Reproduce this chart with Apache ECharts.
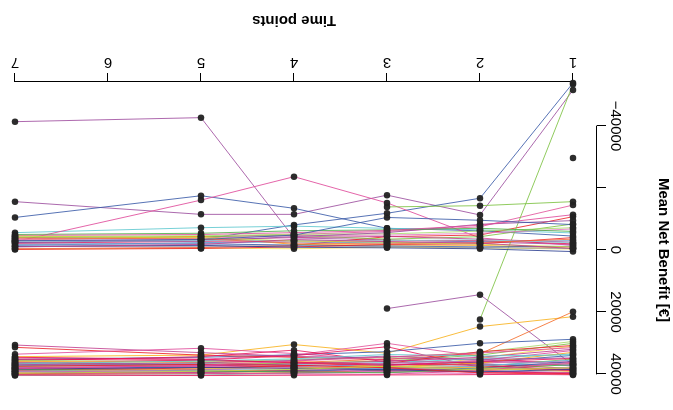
<!DOCTYPE html>
<html>
<head>
<meta charset="utf-8">
<script src="https://cdn.jsdelivr.net/npm/echarts@6/dist/echarts.min.js"></script>
<style>
  html, body { margin: 0; padding: 0; background: #fff; }
  #chart { width: 673px; height: 410px; transform: rotate(180deg); transform-origin: 50% 50%; }
</style>
</head>
<body>
<div id="chart"></div>
<script>
// Measurement occasions (no observations were taken at time point 6)
const timePoints = [1, 2, 3, 4, 5, 7];
const xTicks = [1, 2, 3, 4, 5, 6, 7];
const yTicks = [-40000, -20000, 0, 20000, 40000];

// Mean net benefit per subject, in the order of timePoints; null = not observed
const lowerBandRows = [
  [-1800, -2600, -3300, -3900, -42700, -41400],
  [-51600, -11300, -17700, -11500, -11500, -15600],
  [-4500, -6200, -7000, -13450, -17500, -10500],
  [-53900, -16700, -11850, -8100, -3300, -2400],
  [-5500, -6500, -7000, -7700, -7200, -5600],
  [-1500, -3900, -15200, -23650, -16100, -2700],
  [-14500, -7500, -6000, -5000, -4200, -3600],
  [-10750, -4850, -4300, -1500, -800, -400],
  [-15600, -14300, -13900, null, null, null],
  [-53500, 22400, null, null, null, null],
  [-29700, null, null, null, null, null],
  [-8400, -4300, -3500, -4700, -4300, -4000],
  [-7200, -6100, -5200, -5100, -4600, -4300],
  [-600, -1500, -1600, -1800, -4400, -3200],
  [-300, -700, -900, -400, -600, -300],
  [-2500, -3500, -4400, -4000, -3300, -2900],
  [-1200, -1000, -1300, -1600, -2000, -1900],
  [-3000, -2700, -2300, -2600, -2400, -1500],
  [-2000, -3100, -2900, -3000, -2800, -2200],
  [-500, -800, -1100, -1300, -1200, -1100],
  [-6800, -5400, -4800, -4600, -3800, -3400],
  [-9500, -8300, -5600, -4300, -2900, -2500],
  [-4000, -2000, -1800, -1000, -500, -200],
  [-6000, -7000, -6500, -6200, -5400, -5000],
  [-2300, -3300, -3000, -3100, -3000, -2800],
  [500, -400, -700, -900, -1500, -1200],
  [-3500, -2400, -2000, -2200, -3600, -3900],
  [-11400, -8000, -6300, -5600, -5000, -4700],
  [-1000, -1900, -2500, -2900, -4000, -4500],
  [-8200, -9600, -10500, -4800, -3400, -3000],
  [-500, -2200, -2700, -3400, -1800, -1000]
];
const lowerBandColors = [
  '#a04fa0', '#9c4f9f', '#3a5ba8', '#3a5ba8', '#5ec8cf', '#df4a9a', '#e2559c', '#ec2227',
  '#7dc242', '#7dc242', '#222222', '#7dc242', '#a6d96a', '#f8a51c', '#f2e15a', '#c2408f',
  '#3a5ba8', '#5b8fc9', '#e8175d', '#8893a8', '#e377c2', '#9c4f9f', '#ec2227', '#4daf4a',
  '#8fd3d8', '#2c3e91', '#f46d43', '#df4a9a', '#c7d93f', '#3a5ba8', '#c2408f'
];

const upperBandRows = [
  [37100, 14400, 18900, null, null, null],
  [21500, 24700, 33300, 30500, 33900, 34400],
  [19900, 33500, 35200, 36300, 36800, 37200],
  [37500, 34400, 30100, 33900, 35200, 34800],
  [28800, 30100, 32800, 33800, 34600, 35300],
  [30100, 33900, 35800, 36500, 37100, 37600],
  [36500, 35500, 34800, 34300, 33100, 30650],
  [38200, 36700, 35400, 34600, 33900, 31400],
  [35800, 36400, 35600, 33400, 31700, 33600],
  [38700, 37300, 36100, 32300, 34400, 35800],
  [39000, 37900, 31200, 34100, 35500, 36600],
  [34000, 36200, 37000, 37400, 37800, 38100],
  [31000, 34800, 38800, 39500, 39800, 40200],
  [33500, 35100, 36300, 36900, 37000, 36200],
  [35200, 37600, 38200, 37900, 38500, 38900],
  [40000, 38800, 38100, 37600, 37100, 36400],
  [39500, 39000, 38400, 38700, 39300, 39700],
  [32400, 35600, 37300, 38300, 37600, 36900],
  [36700, 37800, 37900, 38900, 39500, 39900],
  [38300, 38500, 39200, 39600, 39900, 40100],
  [37200, 36800, 37600, 37100, 36700, 37300],
  [29500, 33000, 34700, 35400, 36000, 35600],
  [39700, 39400, 38900, 39200, 38600, 38200],
  [36000, 38100, 38700, 39000, 39400, 39300],
  [33000, 36500, 37700, 35900, 36300, 35900],
  [40300, 39900, 39500, 38000, 37500, 37800],
  [37800, 38600, 39400, 39800, 40300, 40500],
  [30800, 32800, 36600, 37300, 38100, 38700],
  [34800, 35300, 34200, 35600, 36400, 37000],
  [38900, 37100, 36800, 36200, 35600, 35200],
  [35500, 37400, 38200, 38400, 38800, 39100],
  [37000, 38300, 39600, 39300, 39000, 38500],
  [39200, 38000, 37400, 37900, 38300, 39500],
  [32000, 34600, 35900, 36700, 37400, 38000],
  [36200, 38900, 40100, 40000, 39600, 39000],
  [39900, 40200, 40300, 40400, 40500, 40300],
  [38500, 39300, 38600, 38100, 37900, 38400],
  [33800, 34200, 33700, 35100, 35800, 36700],
  [40100, 39600, 38000, 37200, 36900, 37500],
  [36900, 35800, 36500, 37800, 38700, 39300],
  [35000, 36000, 37200, 36400, 35300, 34600],
  [38000, 38700, 37500, 38500, 39100, 39800],
  [31500, 33200, 34500, 35800, 37200, 38300]
];
const upperBandColors = [
  '#9c4f9f', '#f8b21c', '#f46d2b', '#e2559c', '#3a5ba8', '#7dc242', '#c2408f', '#ec2227',
  '#df4a9a', '#e8175d', '#e8175d', '#3a5ba8', '#f2dc4a', '#5ec8cf', '#7dc242', '#e8175d',
  '#9c4f9f', '#df4a9a', '#ec2227', '#c2408f', '#5b8fc9', '#a6d96a', '#e8175d', '#3a5ba8',
  '#f8a51c', '#e377c2', '#9a9a9a', '#ec2227', '#9c4f9f', '#e8175d', '#6cb4e4', '#4daf4a',
  '#f5c242', '#c2408f', '#df4a9a', '#e8175d', '#2c3e91', '#5ec8cf', '#ec2227', '#b77fc0',
  '#e8175d', '#c7d93f', '#df4a9a'
];

const FONT = "'Liberation Sans', Arial, Helvetica, sans-serif";

function toPairs(row) {
  return timePoints.map((t, i) => [t, row[i]]);
}

const series = [];
const addRows = (rows, colors) => rows.forEach((row, k) => {
  series.push({
    type: 'line',
    data: toPairs(row),
    showSymbol: false,
    symbol: 'none',
    connectNulls: false,
    clip: false,
    silent: true,
    z: 2,
    lineStyle: { color: colors[k % colors.length], width: 1, opacity: 0.85 }
  });
});
addRows(lowerBandRows, lowerBandColors);
addRows(upperBandRows, upperBandColors);

// Observation markers on top of all lines
const markers = [];
lowerBandRows.concat(upperBandRows).forEach(row => {
  row.forEach((v, i) => { if (v !== null) markers.push([timePoints[i], v]); });
});
series.push({
  type: 'scatter',
  data: markers,
  symbol: 'circle',
  symbolSize: 6.5,
  clip: false,
  silent: true,
  z: 5,
  itemStyle: { color: '#222222', opacity: 0.95 }
});

const chart = echarts.init(document.getElementById('chart'), null, { renderer: 'canvas' });
chart.setOption({
  animation: false,
  backgroundColor: '#ffffff',
  grid: { left: 100, right: 15, top: 36, bottom: 126, containLabel: false, outerBoundsMode: 'none' },
  xAxis: {
    type: 'value',
    min: xTicks[0],
    max: xTicks[xTicks.length - 1],
    interval: 1,
    offset: 44,
    name: 'Time points',
    nameLocation: 'middle',
    nameGap: 54,
    nameTextStyle: { fontFamily: FONT, fontSize: 15, fontWeight: 'bold', color: '#000' },
    axisLine: { show: true, onZero: false, lineStyle: { color: '#000', width: 1 } },
    axisTick: { show: true, length: 9, lineStyle: { color: '#000', width: 1 } },
    axisLabel: { fontFamily: FONT, fontSize: 15, color: '#000', margin: 12 },
    splitLine: { show: false }
  },
  yAxis: {
    type: 'value',
    min: yTicks[0],
    max: yTicks[yTicks.length - 1],
    interval: 20000,
    offset: 24,
    name: 'Mean Net Benefit [€]',
    nameLocation: 'middle',
    nameRotate: 90,
    nameGap: 59,
    nameTextStyle: { fontFamily: FONT, fontSize: 15, fontWeight: 'bold', color: '#000' },
    axisLine: { show: true, onZero: false, lineStyle: { color: '#000', width: 1 } },
    axisTick: { show: true, length: 9, lineStyle: { color: '#000', width: 1 } },
    axisLabel: {
      fontFamily: FONT, fontSize: 15, color: '#000', rotate: 90, margin: 11,
      formatter: v => (v === -20000 ? '' : String(v).replace('-', '\u2212'))
    },
    splitLine: { show: false }
  },
  series: series
});
</script>
</body>
</html>
